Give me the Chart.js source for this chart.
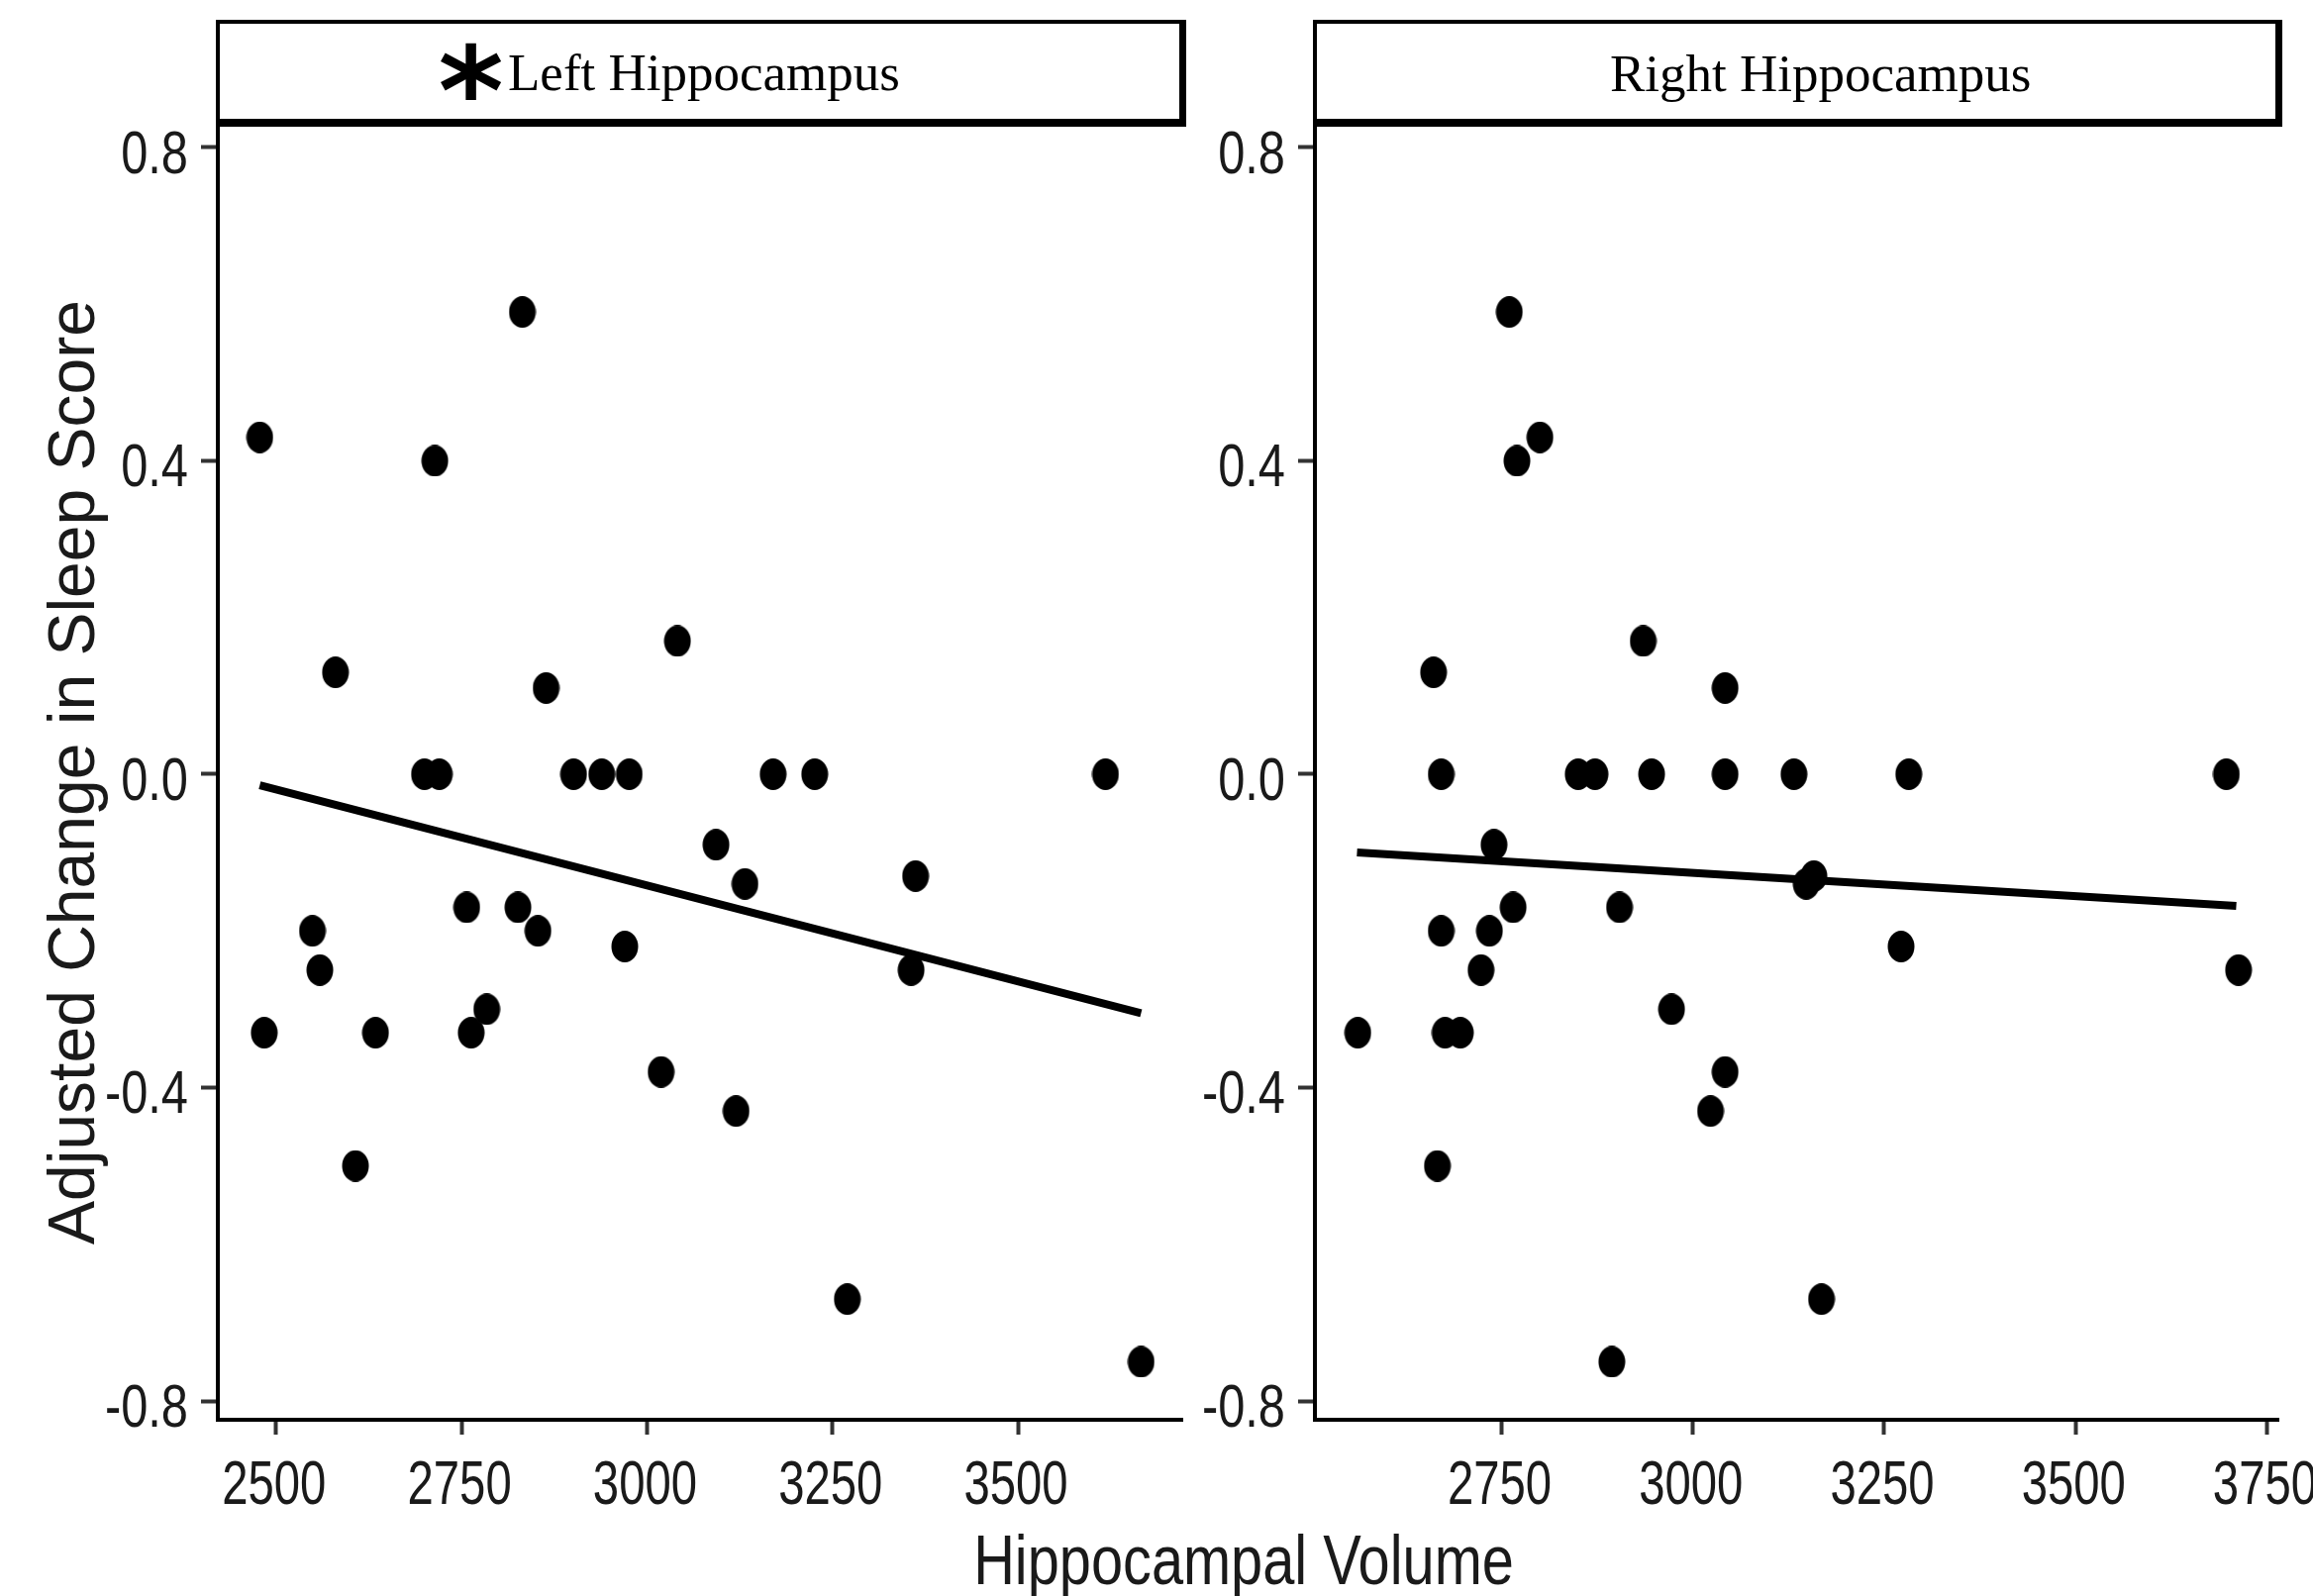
<!DOCTYPE html>
<html>
<head>
<meta charset="utf-8">
<script src="https://cdn.jsdelivr.net/npm/chart.js@4.4.1/dist/chart.umd.min.js"></script>
<style>
  html, body { margin: 0; padding: 0; background: #fff; }
  #page { position: relative; width: 2336px; height: 1612px; overflow: hidden; background: #fff; }
  .panel { position: absolute; top: 0; }
  #leftPanel { left: 0; }
  #rightPanel { left: 1215px; }
  #xTitle {
    position: absolute; left: 756px; width: 1000px; top: 1541px;
    text-align: center; font-size: 70px; line-height: 70px; color: #1a1a1a;
    font-family: 'Liberation Sans', Arial, sans-serif;
    transform: scaleX(0.825); transform-origin: 500px 0;
    white-space: nowrap;
  }
</style>
</head>
<body>
<div id="page">
  <canvas id="leftPanel" class="panel" width="1215" height="1612"></canvas>
  <canvas id="rightPanel" class="panel" width="1121" height="1612"></canvas>
  <div id="xTitle"></div>
</div>
<script>
// ---- tick labels / titles ----
const yTicks = [-0.8, -0.4, 0, 0.4, 0.8];
const leftXTicks = [2500, 2750, 3000, 3250, 3500];
const rightXTicks = [2750, 3000, 3250, 3500, 3750];
const panelTitles = ["Left Hippocampus", "Right Hippocampus"];
const xTitle = "Hippocampal Volume";
const yTitle = "Adjusted Change in Sleep Score";

// ---- left hippocampus: volume vs adjusted change ----
const leftVolume = [2478, 2484, 2549, 2559, 2580, 2607, 2634, 2700, 2720, 2714, 2757,
  2763, 2784, 2826, 2832, 2853, 2864, 2901, 2939, 2976, 2970, 3019, 3041, 3093, 3120,
  3132, 3170, 3226, 3270, 3356, 3362, 3618, 3666];
const leftScore = [0.43, -0.33, -0.20, -0.25, 0.13, -0.50, -0.33, 0, 0, 0.40, -0.17,
  -0.33, -0.30, -0.17, 0.59, -0.20, 0.11, 0, 0, 0, -0.22, -0.38, 0.17, -0.09, -0.43,
  -0.14, 0, 0, -0.67, -0.25, -0.13, 0, -0.75];

// ---- right hippocampus ----
const rightVolume = [2562, 2661, 2666, 2671, 2671, 2676, 2696, 2723, 2734, 2740, 2760,
  2770, 2765, 2800, 2850, 2872, 2894, 2904, 2935, 2946, 2972, 3023, 3042, 3042, 3042,
  3132, 3148, 3158, 3168, 3272, 3282, 3697, 3713];
const rightScore = [-0.33, 0.13, -0.50, 0, -0.20, -0.33, -0.33, -0.25, -0.20, -0.09, 0.59,
  0.40, -0.17, 0.43, 0, 0, -0.75, -0.17, 0.17, 0, -0.30, -0.43, 0.11, 0, -0.38,
  0, -0.14, -0.13, -0.67, -0.22, 0, 0, -0.25];

// fitted lines (end points)
const leftFitX = [2478, 3666];
const leftFitY = [-0.014, -0.305];
const rightFitX = [2561, 3710];
const rightFitY = [-0.100, -0.168];

const SANS = "'Liberation Sans', Arial, sans-serif";
const SERIF = "'Liberation Serif', 'Times New Roman', serif";
const TEXT = "#1a1a1a";

document.getElementById("xTitle").textContent = xTitle;

// dots are a bit taller than wide in the original
function makeDot() {
  const c = document.createElement("canvas");
  c.width = 28;
  c.height = 32;
  const g = c.getContext("2d");
  g.fillStyle = "#000";
  g.beginPath();
  g.ellipse(14, 16, 13.5, 16, 0, 0, Math.PI * 2);
  g.fill();
  return c;
}
const dot = makeDot();

// facet strip above each panel
const stripPlugin = {
  id: "strip",
  afterDraw(chart, args, opts) {
    const ctx = chart.ctx;
    const a = chart.chartArea;
    const x0 = a.left - 2, x1 = a.right + 4, y0 = 20, y1 = 128;
    ctx.save();
    ctx.fillStyle = "#000";
    ctx.fillRect(x0, y0, x1 - x0, y1 - y0);
    ctx.fillStyle = "#fff";
    ctx.fillRect(x0 + 4, y0 + 4, x1 - x0 - 11, y1 - y0 - 12);
    ctx.fillStyle = "#000";
    ctx.textAlign = "left";
    ctx.textBaseline = "alphabetic";
    ctx.font = "53px " + SERIF;
    ctx.fillText(opts.text, opts.textX, opts.baseline);
    if (opts.star) {
      // size the asterisk to its box in the original
      const s = opts.star;
      ctx.font = "bold 100px 'DejaVu Sans', sans-serif";
      const m = ctx.measureText("*");
      const h = m.actualBoundingBoxAscent + m.actualBoundingBoxDescent;
      const w = m.actualBoundingBoxLeft + m.actualBoundingBoxRight;
      const k = s.h / h;
      ctx.translate(s.x, s.y);
      ctx.scale(s.w / (w * k), 1);
      ctx.font = "bold " + (100 * k).toFixed(1) + "px 'DejaVu Sans', sans-serif";
      ctx.fillText("*", m.actualBoundingBoxLeft * k, m.actualBoundingBoxAscent * k);
    }
    ctx.restore();
  },
};

// tick labels in the original are tall and narrow: draw the scales' own
// labels with a horizontal squeeze
const squeezedTicks = {
  id: "squeezedTicks",
  afterDraw(chart) {
    const ctx = chart.ctx;
    const xs = chart.scales.x;
    const ys = chart.scales.y;
    ctx.save();
    ctx.fillStyle = TEXT;
    ctx.textBaseline = "alphabetic";
    ctx.font = "63px " + SANS;
    ctx.textAlign = "center";
    xs.ticks.forEach((t) => {
      ctx.save();
      ctx.translate(xs.getPixelForValue(t.value) - 2, xs.top + 85);
      ctx.scale(0.75, 1);
      ctx.fillText(t.label, 0, 0);
      ctx.restore();
    });
    ctx.font = "61px " + SANS;
    ctx.textAlign = "right";
    ys.ticks.forEach((t) => {
      ctx.save();
      ctx.translate(ys.right - 30, ys.getPixelForValue(t.value) + 26);
      ctx.scale(0.8, 1);
      ctx.fillText(t.label, 0, 0);
      ctx.restore();
    });
    ctx.restore();
  },
};

function makePanel(id, volume, score, fitX, fitY, xTicks, xMin, xMax, yWidth, padRight, strip, showYTitle) {
  const points = volume.map((v, i) => ({ x: v, y: score[i] }));
  const fit = fitX.map((v, i) => ({ x: v, y: fitY[i] }));

  return new Chart(document.getElementById(id), {
    type: "scatter",
    data: {
      datasets: [
        {
          data: points,
          pointStyle: dot,
          pointRadius: 14,
          backgroundColor: "#000",
          borderWidth: 0,
        },
        {
          type: "line",
          data: fit,
          borderColor: "#000",
          borderWidth: 8,
          pointRadius: 0,
          fill: false,
          tension: 0,
        },
      ],
    },
    options: {
      responsive: false,
      animation: false,
      events: [],
      layout: { padding: { top: 126, right: padRight, left: 0, bottom: 0 } },
      plugins: {
        legend: { display: false },
        tooltip: { enabled: false },
        strip: strip,
      },
      scales: {
        x: {
          type: "linear",
          min: xMin,
          max: xMax,
          afterBuildTicks: (s) => { s.ticks = xTicks.map((v) => ({ value: v })); },
          afterFit: (s) => { s.height = 178; s.paddingLeft = 0; s.paddingRight = 0; },
          grid: { display: true, drawOnChartArea: false, tickLength: 15, tickWidth: 4, tickColor: "#333" },
          border: { display: true, color: "#000", width: 4 },
          ticks: { display: false, autoSkip: false, callback: (v) => String(v) },
        },
        y: {
          type: "linear",
          min: -0.824,
          max: 0.829,
          afterBuildTicks: (s) => { s.ticks = yTicks.map((v) => ({ value: v })); },
          afterFit: (s) => { s.width = yWidth; s.paddingTop = 0; s.paddingBottom = 0; },
          grid: { display: true, drawOnChartArea: false, tickLength: 17, tickWidth: 4, tickColor: "#333" },
          border: { display: true, color: "#000", width: 4 },
          ticks: { display: false, callback: (v) => v.toFixed(1) },
          title: {
            display: showYTitle,
            text: yTitle,
            color: TEXT,
            font: { family: SANS, size: 66 },
            padding: { top: 37, bottom: 0 },
          },
        },
      },
    },
    plugins: [stripPlugin, squeezedTicks],
  });
}

makePanel("leftPanel", leftVolume, leftScore, leftFitX, leftFitY, leftXTicks,
  2421.5, 3721.5, 220, 21,
  { text: panelTitles[0], textX: 513, baseline: 91, star: { x: 445, y: 42, w: 62, h: 58 } }, true);

makePanel("rightPanel", rightVolume, rightScore, rightFitX, rightFitY, rightXTicks,
  2506, 3765, 113, 35,
  { text: panelTitles[1], textX: 411, baseline: 92 }, false);
</script>
</body>
</html>
